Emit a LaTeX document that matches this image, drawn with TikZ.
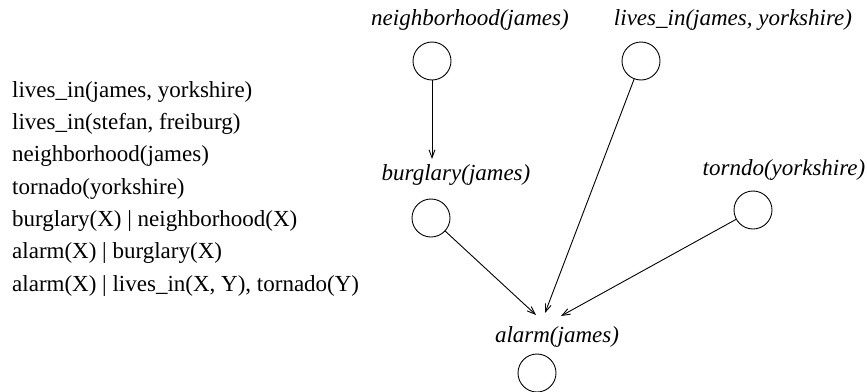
\documentclass[tikz,border=0pt]{standalone}
\usepackage{fontspec}
\setmainfont{Liberation Serif}
\usetikzlibrary{arrows.meta}
\begin{document}
\begin{tikzpicture}[x=1pt,y=-1pt,
  fact/.style={anchor=base west,inner sep=0pt,font=\fontsize{23}{27}\selectfont},
  lbl/.style={inner sep=0pt,font=\fontsize{23}{27}\selectfont\itshape},
  var/.style={circle,draw,line width=0.9pt,minimum size=38pt,inner sep=0pt},
  dep/.style={line width=0.9pt,-{Straight Barb[length=8pt,width=6pt,line width=0.9pt]}}]
\useasboundingbox (0,0) rectangle (867,391);

% program clauses
\node[fact] (f1) at (12,97)  {lives\_in(james, yorkshire)};
\node[fact] (f2) at (12,129) {lives\_in(stefan, freiburg)};
\node[fact] (f3) at (12,161) {neighborhood(james)};
\node[fact] (f4) at (12,194) {tornado(yorkshire)};
\node[fact] (f5) at (12,226) {burglary(X) | neighborhood(X)};
\node[fact] (f6) at (12,258) {alarm(X) | burglary(X)};
\node[fact] (f7) at (12,291) {alarm(X) | lives\_in(X, Y), tornado(Y)};

% ground atoms
\node[lbl] (nbL) at (470,20)  {neighborhood(james)};
\node[var] (nb)  at (432,61)  {};
\node[lbl] (liL) at (733,20)  {lives\_in(james, yorkshire)};
\node[var] (li)  at (641,61)  {};
\node[lbl] (bgL) at (456,175) {burglary(james)};
\node[var] (bg)  at (431,218) {};
\node[lbl] (toL) at (784,170) {torndo(yorkshire)};
\node[var] (to)  at (753,210) {};
\node[lbl] (alL) at (557,337) {alarm(james)};
\node[var] (al)  at (537,373) {};

% arrow ends above the alarm label
\coordinate (e1) at (432,159);
\coordinate (a1) at (536,315);
\coordinate (a2) at (545,313);
\coordinate (a3) at (561,316);

% dependencies
\draw[dep] (nb) -- (e1);
\draw[dep] (bg) -- (a1);
\draw[dep] (li) -- (a2);
\draw[dep] (to) -- (a3);
\end{tikzpicture}
\end{document}
